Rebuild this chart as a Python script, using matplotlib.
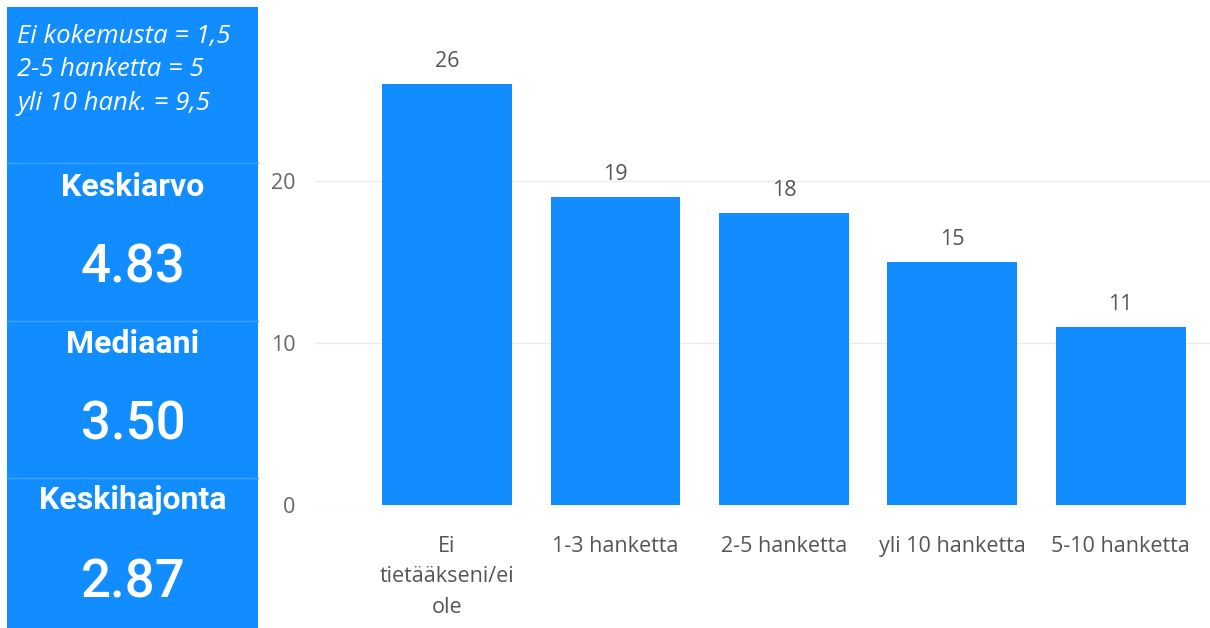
import matplotlib.pyplot as plt
from matplotlib.patches import Rectangle

# Data
categories = ["Ei\ntietääkseni/ei\nole", "1-3 hanketta", "2-5 hanketta",
              "yli 10 hanketta", "5-10 hanketta"]
counts = [26, 19, 18, 15, 11]
y_ticks = [0, 10, 20]

note_lines = ["Ei kokemusta = 1,5", "2-5 hanketta = 5", "yli 10 hank. = 9,5"]
stat_names = ["Keskiarvo", "Mediaani", "Keskihajonta"]
stat_values = [4.83, 3.50, 2.87]

BLUE = "#118DFF"
W, H = 1210, 628

fig = plt.figure(figsize=(W / 100, H / 100), dpi=100)
fig.patch.set_facecolor("white")

# Left card panel
fig.patches.append(Rectangle((7 / W, 0), (258 - 7) / W, (H - 7) / H,
                             transform=fig.transFigure, facecolor=BLUE,
                             edgecolor="none", zorder=0))
for y in [163, 321, 478]:
    fig.add_artist(plt.Line2D([7 / W, 258 / W], [1 - y / H, 1 - y / H],
                              transform=fig.transFigure, color="#3da2ff",
                              linewidth=1))

for i, line in enumerate(note_lines):
    fig.text(17 / W, 1 - (37 + 33 * i) / H, line, color="white",
             fontsize=18.5, style="italic", family="Open Sans",
             ha="left", va="center")

title_y = [187, 344, 500]
value_y = [268, 425, 583]
for name, val, ty, vy in zip(stat_names, stat_values, title_y, value_y):
    fig.text(133 / W, 1 - ty / H, name, color="white", fontsize=23,
             fontweight="bold", family="Roboto", ha="center", va="center")
    fig.text(133 / W, 1 - vy / H, f"{val:.2f}", color="white", fontsize=38,
             fontweight="medium", family="Roboto", ha="center", va="center")

# Bar chart
ax_left, ax_right = 315, 1210
ax_top, ax_bottom = 0, 505
ax = fig.add_axes([ax_left / W, 1 - ax_bottom / H,
                   (ax_right - ax_left) / W, (ax_bottom - ax_top) / H])
x = range(len(categories))
ax.bar(x, counts, width=0.77, color=BLUE, zorder=3)
for xi, c in zip(x, counts):
    ax.text(xi, c + 0.75, str(c), ha="center", va="bottom", color="#555555",
            fontsize=15.5, family="Open Sans")

ax.set_xlim(-0.784, 4.53)
ax.set_ylim(0, 505 / 16.2)
ax.set_yticks(y_ticks)
ax.set_yticklabels([str(t) for t in y_ticks], color="#666666", fontsize=15.5,
                   family="Open Sans")
ax.yaxis.grid(True, color="#ebebeb", linewidth=1, zorder=0)
ax.tick_params(axis="y", length=0, pad=14)
ax.set_xticks(list(x))
ax.set_xticklabels(categories, color="#555555", fontsize=15.5,
                   family="Open Sans", linespacing=1.62)
ax.tick_params(axis="x", length=0, pad=22)
for s in ax.spines.values():
    s.set_visible(False)

fig.savefig("out.png", dpi=100)
